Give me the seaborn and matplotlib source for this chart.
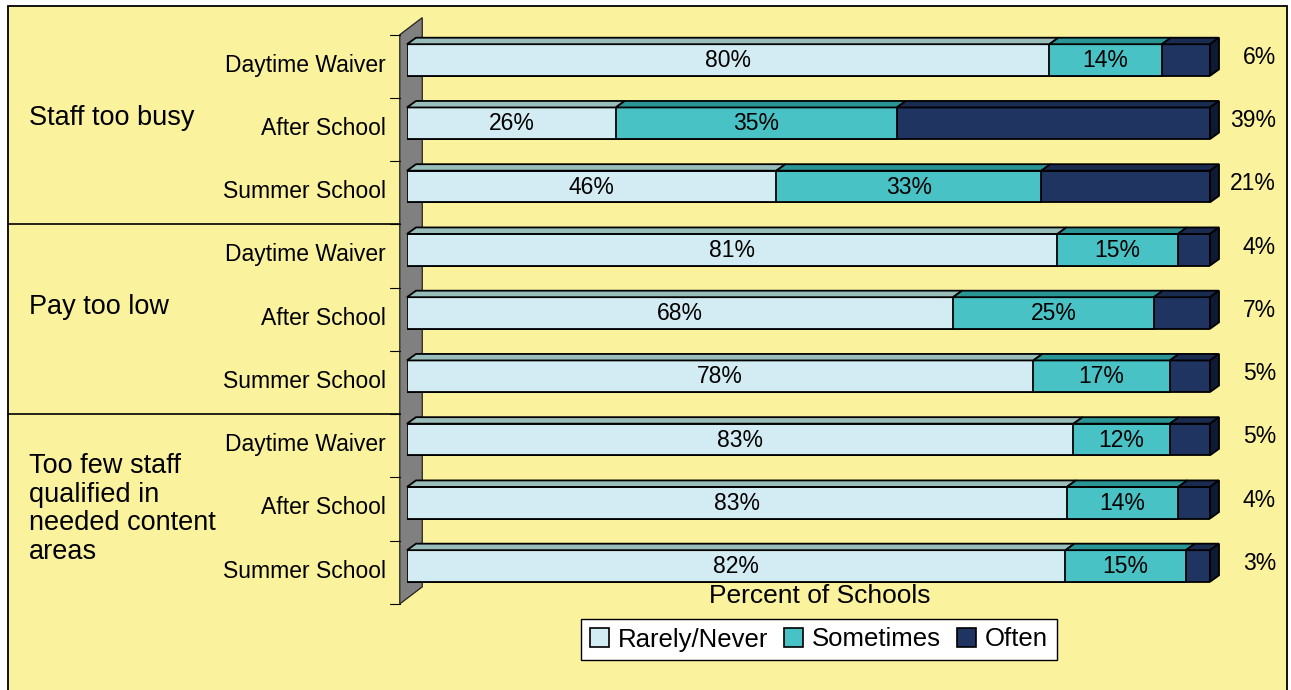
import numpy as np
import pandas as pd
import matplotlib
matplotlib.use("Agg")
import matplotlib.pyplot as plt
import seaborn as sns
from matplotlib.patches import Polygon, Rectangle, Patch

# ---------------- data ----------------
groups = ["Staff too busy", "Pay too low",
          "Too few staff\nqualified in\nneeded content\nareas"]
programs = ["Daytime Waiver", "After School", "Summer School"]
rarely = [80, 26, 46, 81, 68, 78, 83, 83, 82]
sometimes = [14, 35, 33, 15, 25, 17, 12, 14, 15]
often = [6, 39, 21, 4, 7, 5, 5, 4, 3]
series = ["Rarely/Never", "Sometimes", "Often"]

# ---------------- style ----------------
sns.set_style("white")
plt.rcParams["font.family"] = ["Liberation Sans", "DejaVu Sans"]
plt.rcParams["text.color"] = "black"

BG = "#FAF29C"
C_LIGHT, C_TEAL, C_NAVY = "#D3ECF3", "#48C2C5", "#1F3461"
T_LIGHT, T_TEAL, T_NAVY = "#99BDBA", "#2A9595", "#1A2B50"
S_NAVY = "#0E1A33"

rows = [f"{g}|{p}" for g in groups for p in programs]
tot = np.array(rarely) + np.array(sometimes) + np.array(often)
r_n = np.array(rarely) / tot * 100
s_n = r_n + np.array(sometimes) / tot * 100
o_n = s_n + np.array(often) / tot * 100
df = pd.DataFrame({"row": rows, "c1": r_n, "c2": s_n, "c3": o_n})

W, H = 1291, 690
fig = plt.figure(figsize=(W / 100, H / 100), dpi=100, facecolor="white")
frame = Rectangle((8 / W, -0.01), (1287 - 8) / W, 1 - 6 / H + 0.01,
                  transform=fig.transFigure, facecolor=BG,
                  edgecolor="black", linewidth=1.3, zorder=-5)
fig.patches.append(frame)

x0, x1 = 407, 1210
ytop, ybot = 28.4, 597.6
PXX = (x1 - x0) / 100
ax = fig.add_axes([x0 / W, 1 - ybot / H, (x1 - x0) / W, (ybot - ytop) / H])
ax.set_facecolor("none")
ax.set_zorder(2)

BAR_H = 0.5
EW = 1.3
for col, c, z in [("c3", C_NAVY, 3), ("c2", C_TEAL, 4), ("c1", C_LIGHT, 5)]:
    sns.barplot(data=df, y="row", x=col, orient="h", color=c, width=BAR_H,
                edgecolor="black", linewidth=EW, saturation=1, ax=ax, zorder=z)

ax.set_xlim(0, 100)
ax.set_ylim(8.5, -0.5)
ax.axis("off")

# depth offsets (data units)
DX = 9 / PXX
DY = 6.5 / ((ybot - ytop) / 9)

# back wall
WX0 = -0.9
WDX, WDY = 2.8, 0.27
wall = Polygon([(WX0, -0.4), (WX0 + WDX, -0.4 - WDY), (WX0 + WDX, 8.6 - WDY), (WX0, 8.6)],
               closed=True, facecolor="#808080", edgecolor="#222222", linewidth=0.9,
               zorder=1, clip_on=False)
ax.add_patch(wall)
for k in range(10):
    yb = -0.4 + k * 1.0
    ax.plot([-2.1, WX0], [yb, yb], color="black", lw=0.8, clip_on=False, zorder=1)
for k in (3, 6):
    yb = -0.4 + k * 1.0
    ax.plot([(8 - x0) / PXX, WX0], [yb, yb], color="black", lw=1.2, clip_on=False, zorder=1)

# 3D faces
for i in range(len(rows)):
    top = i - BAR_H / 2
    bot = i + BAR_H / 2
    segs = [(0, r_n[i], T_LIGHT), (r_n[i], s_n[i], T_TEAL), (s_n[i], o_n[i], T_NAVY)]
    for a, b, c in segs:
        ax.add_patch(Polygon([(a, top), (a + DX, top - DY), (b + DX, top - DY), (b, top)],
                             closed=True, facecolor=c, edgecolor="black", linewidth=EW,
                             zorder=6, clip_on=False))
    e = o_n[i]
    ax.add_patch(Polygon([(e, top), (e + DX, top - DY), (e + DX, bot - DY), (e, bot)],
                         closed=True, facecolor=S_NAVY, edgecolor="black", linewidth=EW,
                         zorder=6, clip_on=False))
    # value labels
    ax.text(r_n[i] / 2, i + 0.01, f"{rarely[i]}%", ha="center", va="center",
            fontsize=16.5, zorder=8)
    ax.text((r_n[i] + s_n[i]) / 2, i + 0.01, f"{sometimes[i]}%", ha="center",
            va="center", fontsize=16.5, zorder=8)
    ax.text((1276 - x0) / PXX, i - 0.04, f"{often[i]}%", ha="right", va="center",
            fontsize=16.5, clip_on=False)
    # program label
    ax.text(-(x0 - 386) / PXX, i + 0.08, programs[i % 3], ha="right", va="center",
            fontsize=16.5, clip_on=False)

# group labels
for g_i, g in enumerate(groups):
    yc = 3 * g_i + 1
    off = -0.09 if g_i < 2 else 0.1
    ax.text(-(x0 - 29) / PXX, yc + off, g, ha="left", va="center", fontsize=19.5,
            linespacing=1.12, clip_on=False)

fig.text(820 / W, 1 - 596 / H, "Percent of Schools", ha="center", va="center",
         fontsize=19)

handles = [Patch(facecolor=c, edgecolor="black", linewidth=1.2)
           for c in (C_LIGHT, C_TEAL, C_NAVY)]
leg = fig.legend(handles, series, loc="center", bbox_to_anchor=(819 / W, 1 - 639.5 / H),
                 ncol=3, frameon=True, fancybox=False, edgecolor="black", framealpha=1,
                 handlelength=0.75, handleheight=0.75, columnspacing=0.6,
                 handletextpad=0.35, fontsize=18.5, borderpad=0.35)
leg.get_frame().set_linewidth(1.0)

fig.savefig("out.png", dpi=100, facecolor="white")
